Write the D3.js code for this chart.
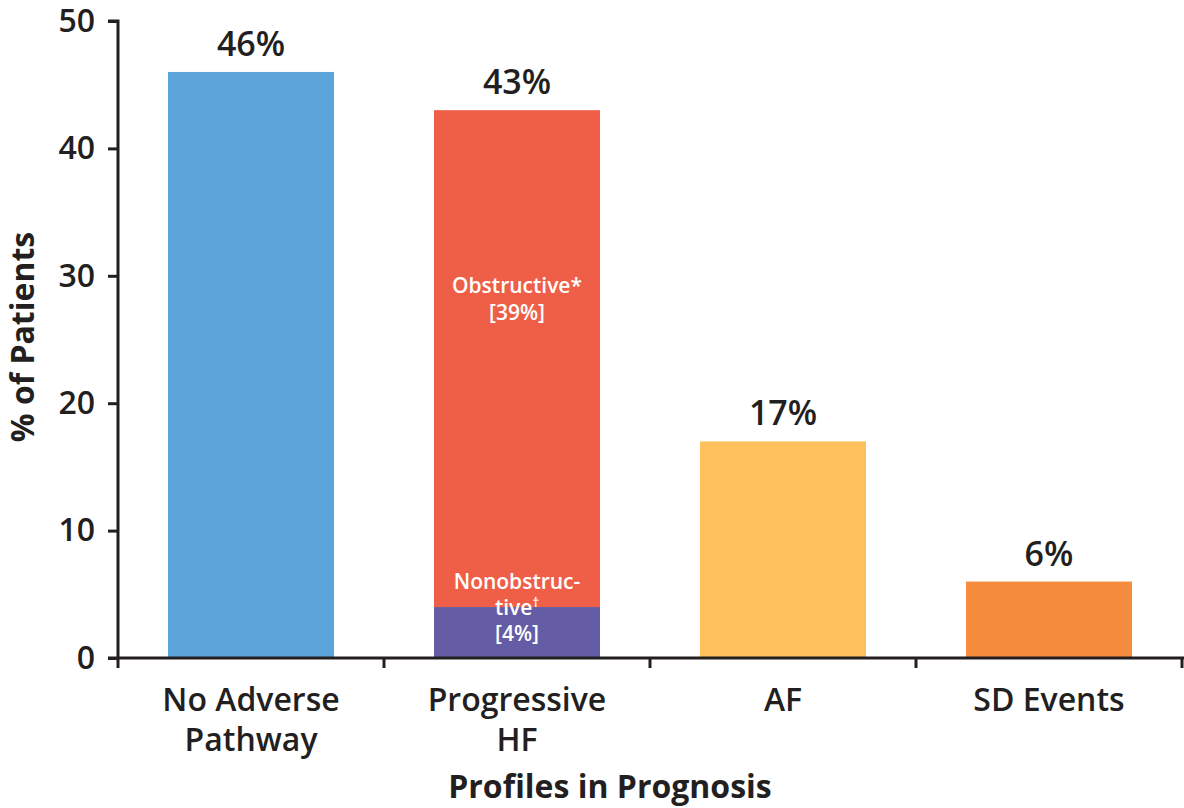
<!DOCTYPE html>
<html>
<head>
<meta charset="utf-8">
<script src="https://cdn.jsdelivr.net/npm/d3@7"></script>
<style>
  html, body { margin: 0; padding: 0; background: #fff; }
  svg { display: block; }
  text { font-family: "Open Sans", "Noto Sans", sans-serif; }
</style>
</head>
<body>
<svg id="chart" width="1184" height="808"></svg>
<script>
// Profiles in prognosis: share of patients per pathway
const categories = ["No Adverse Pathway", "Progressive HF", "AF", "SD Events"];
const categoryLines = [["No Adverse", "Pathway"], ["Progressive", "HF"], ["AF"], ["SD Events"]];
const totals = [46, 43, 17, 6];
const totalLabels = ["46%", "43%", "17%", "6%"];
// Progressive HF split into its two components
const hfSegments = ["Nonobstructive", "Obstructive"];
const hfValues = [4, 39];
const hfLabels = [[["Nonobstruc-", ""], ["tive", "†"], ["[4%]", ""]], [["Obstructive*", ""], ["[39%]", ""]]];
const yTicks = [0, 10, 20, 30, 40, 50];

const barColors = ["#5ba4da", null, "#fdc05d", "#f68d3e"];
const segColors = ["#645ca4", "#ef5f48"];
const ink = "#231f20";

const svg = d3.select("#chart");
const x0 = 118, x1 = 1184, yTop = 21, yBase = 658;

const x = d3.scaleBand().domain(categories).range([x0, x0 + 266 * 4]).paddingInner(0.376).paddingOuter(0.188);
const y = d3.scaleLinear().domain([0, 50]).range([yBase, yTop]);

// plain bars
categories.forEach((c, i) => {
  if (i === 1) return;
  svg.append("rect")
    .attr("x", x(c)).attr("width", x.bandwidth())
    .attr("y", y(totals[i])).attr("height", y(0) - y(totals[i]))
    .attr("fill", barColors[i]);
});

// stacked bar
const stack = d3.stack().keys(hfSegments)([Object.fromEntries(hfSegments.map((k, j) => [k, hfValues[j]]))]);
stack.forEach((s, j) => {
  const d = s[0];
  svg.append("rect")
    .attr("x", x(categories[1])).attr("width", x.bandwidth())
    .attr("y", y(d[1])).attr("height", y(d[0]) - y(d[1]))
    .attr("fill", segColors[j]);
});

// segment labels
const cx = x(categories[1]) + x.bandwidth() / 2;
const segLabelY = [[589, 615, 641], [293, 320]];
hfLabels.forEach((lines, j) => {
  lines.forEach(([t, sup], k) => {
    const txt = svg.append("text")
      .attr("x", cx).attr("y", segLabelY[j][k])
      .attr("text-anchor", "middle")
      .attr("fill", "#fff")
      .attr("font-size", 21).attr("font-weight", 600);
    txt.append("tspan").text(t);
    if (sup) txt.append("tspan").attr("font-size", 13).attr("dy", -8).text(sup);
  });
});

// value labels above bars
categories.forEach((c, i) => {
  svg.append("text")
    .attr("x", x(c) + x.bandwidth() / 2).attr("y", y(totals[i]) - 16)
    .attr("text-anchor", "middle")
    .attr("fill", ink)
    .attr("font-size", 34).attr("font-weight", 600)
    .text(totalLabels[i]);
});

// y axis
const yAxis = svg.append("g").attr("transform", `translate(${x0},0)`)
  .call(d3.axisLeft(y).tickValues(yTicks).tickSize(10).tickPadding(13));
yAxis.select(".domain").attr("stroke", ink).attr("stroke-width", 3)
  .attr("d", `M-10,${yTop}H0V${yBase}`);
yAxis.selectAll(".tick line").attr("stroke", ink).attr("stroke-width", 3);
yAxis.selectAll(".tick text").attr("fill", ink).attr("font-size", 32)
  .attr("font-weight", 600).attr("font-family", "\"Open Sans\", sans-serif");

// x axis with ticks at band boundaries
const boundaries = d3.range(categories.length + 1).map(i => x0 + i * x.step());
svg.append("line").attr("x1", x0 - 10).attr("x2", x1).attr("y1", yBase).attr("y2", yBase)
  .attr("stroke", ink).attr("stroke-width", 3);
boundaries.forEach(b => {
  svg.append("line").attr("x1", Math.min(b, x1 - 1.5)).attr("x2", Math.min(b, x1 - 1.5))
    .attr("y1", yBase).attr("y2", yBase + 10)
    .attr("stroke", ink).attr("stroke-width", 3);
});

// category labels
categoryLines.forEach((lines, i) => {
  lines.forEach((t, k) => {
    svg.append("text")
      .attr("x", x(categories[i]) + x.bandwidth() / 2).attr("y", 711 + k * 40)
      .attr("text-anchor", "middle")
      .attr("fill", ink)
      .attr("font-size", 32).attr("font-weight", 600)
      .text(t);
  });
});

// axis titles
svg.append("text")
  .attr("x", 610).attr("y", 798)
  .attr("text-anchor", "middle")
  .attr("fill", ink)
  .attr("font-size", 32).attr("font-weight", 700)
  .text("Profiles in Prognosis");

svg.append("text")
  .attr("transform", "translate(34,337) rotate(-90)")
  .attr("text-anchor", "middle")
  .attr("fill", ink)
  .attr("font-size", 32).attr("font-weight", 700)
  .text("% of Patients");
</script>
</body>
</html>
